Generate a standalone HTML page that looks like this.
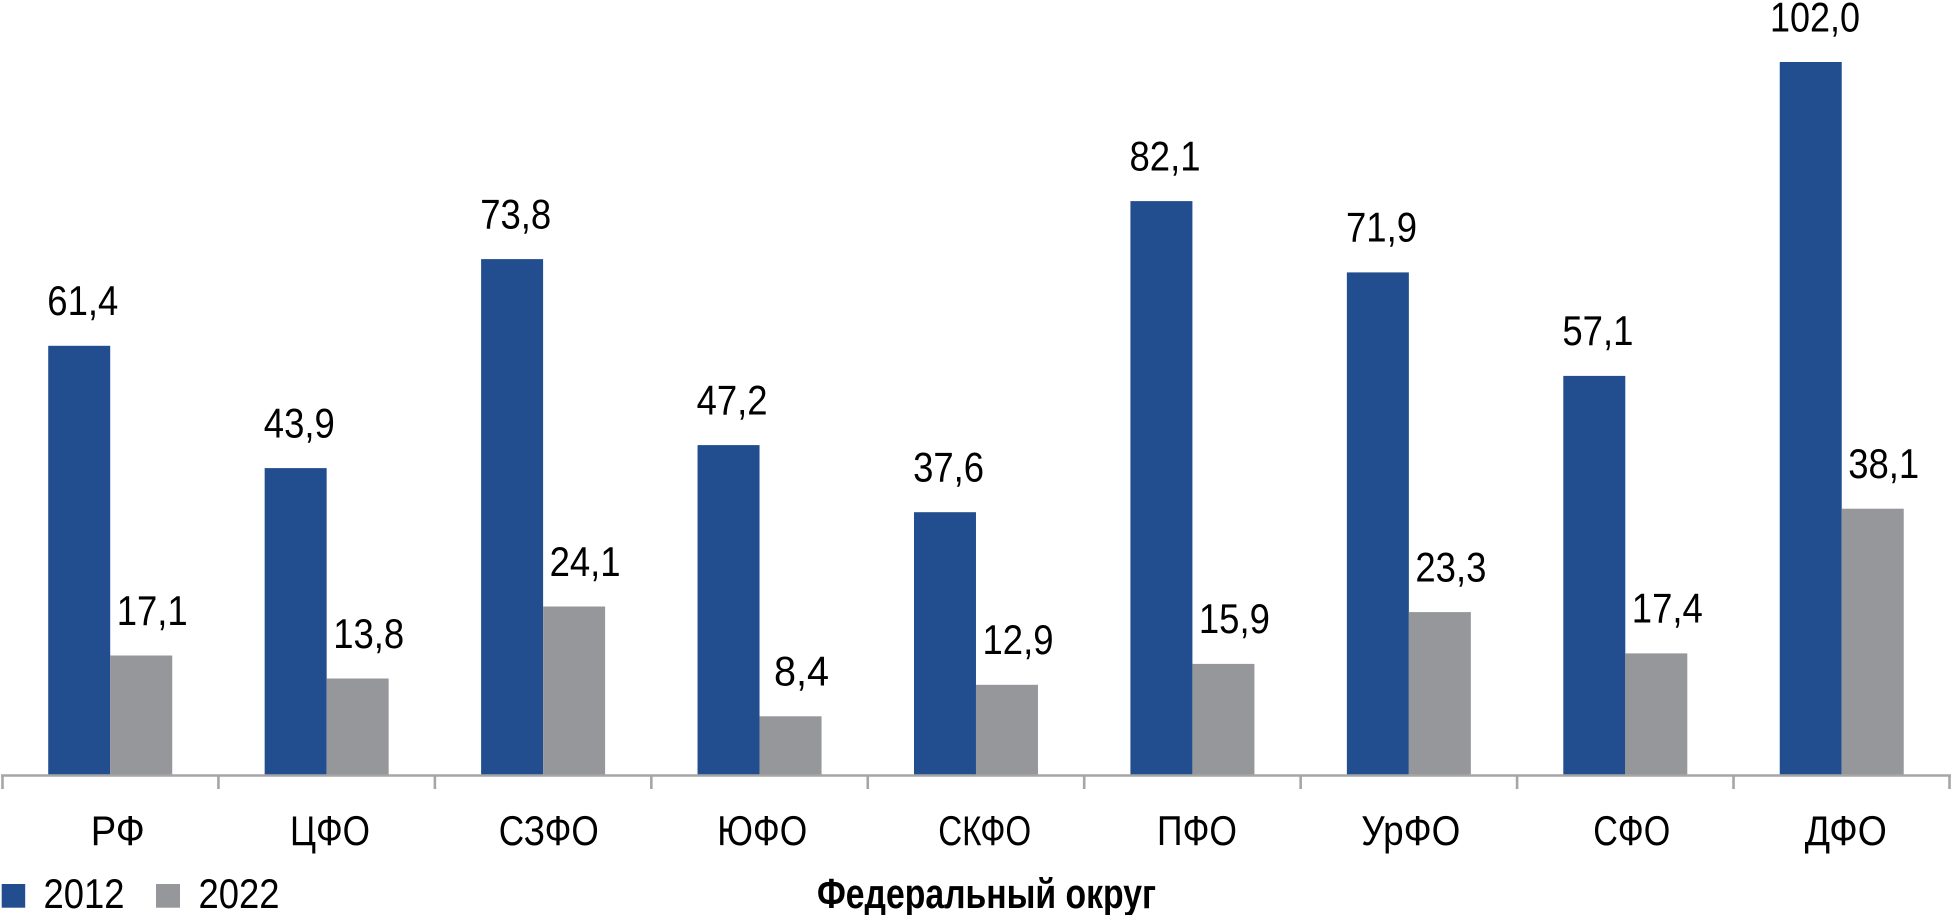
<!DOCTYPE html>
<html><head><meta charset="utf-8"><style>
html,body{margin:0;padding:0;background:#fff;}
svg{display:block;}
text{font-family:"Liberation Sans","DejaVu Sans",sans-serif;fill:#000;}
</style></head><body>
<svg width="1952" height="915" viewBox="0 0 1952 915" xmlns="http://www.w3.org/2000/svg">
<rect x="0" y="0" width="1952" height="915" fill="#fff"/>
<g fill="#224e8f">
<rect x="48.22" y="345.8" width="62" height="429.2"/>
<rect x="264.66" y="468.1" width="62" height="306.9"/>
<rect x="481.10" y="259.1" width="62" height="515.9"/>
<rect x="697.54" y="445.1" width="62" height="329.9"/>
<rect x="913.98" y="512.2" width="62" height="262.8"/>
<rect x="1130.42" y="201.1" width="62" height="573.9"/>
<rect x="1346.86" y="272.4" width="62" height="502.6"/>
<rect x="1563.30" y="375.9" width="62" height="399.1"/>
<rect x="1779.74" y="62.0" width="62" height="713.0"/>
</g>
<g fill="#96979b">
<rect x="110.22" y="655.5" width="62" height="119.5"/>
<rect x="326.66" y="678.5" width="62" height="96.5"/>
<rect x="543.10" y="606.5" width="62" height="168.5"/>
<rect x="759.54" y="716.3" width="62" height="58.7"/>
<rect x="975.98" y="684.8" width="62" height="90.2"/>
<rect x="1192.42" y="663.9" width="62" height="111.1"/>
<rect x="1408.86" y="612.1" width="62" height="162.9"/>
<rect x="1625.30" y="653.4" width="62" height="121.6"/>
<rect x="1841.74" y="508.7" width="62" height="266.3"/>
</g>
<g stroke="#a6a6a6" stroke-width="2.6" fill="none">
<line x1="1" y1="775.5" x2="1951" y2="775.5"/>
<line x1="2.5" y1="775" x2="2.5" y2="789"/>
<line x1="218.44" y1="775" x2="218.44" y2="789"/>
<line x1="434.88" y1="775" x2="434.88" y2="789"/>
<line x1="651.32" y1="775" x2="651.32" y2="789"/>
<line x1="867.76" y1="775" x2="867.76" y2="789"/>
<line x1="1084.2" y1="775" x2="1084.2" y2="789"/>
<line x1="1300.64" y1="775" x2="1300.64" y2="789"/>
<line x1="1517.08" y1="775" x2="1517.08" y2="789"/>
<line x1="1733.52" y1="775" x2="1733.52" y2="789"/>
<line x1="1949.5" y1="775" x2="1949.5" y2="789"/>
</g>
<g font-size="42" text-anchor="middle">
<text x="82.8" y="315.1" textLength="71" lengthAdjust="spacingAndGlyphs">61,4</text>
<text x="299.3" y="437.4" textLength="71" lengthAdjust="spacingAndGlyphs">43,9</text>
<text x="515.7" y="228.4" textLength="71" lengthAdjust="spacingAndGlyphs">73,8</text>
<text x="732.1" y="414.4" textLength="71" lengthAdjust="spacingAndGlyphs">47,2</text>
<text x="948.6" y="481.5" textLength="71" lengthAdjust="spacingAndGlyphs">37,6</text>
<text x="1165.0" y="170.4" textLength="71" lengthAdjust="spacingAndGlyphs">82,1</text>
<text x="1381.5" y="241.7" textLength="71" lengthAdjust="spacingAndGlyphs">71,9</text>
<text x="1597.9" y="345.2" textLength="71" lengthAdjust="spacingAndGlyphs">57,1</text>
<text x="1815.0" y="31.3" textLength="90" lengthAdjust="spacingAndGlyphs">102,0</text>
<text x="152.2" y="624.8" textLength="71" lengthAdjust="spacingAndGlyphs">17,1</text>
<text x="368.7" y="647.8" textLength="71" lengthAdjust="spacingAndGlyphs">13,8</text>
<text x="585.1" y="575.8" textLength="71" lengthAdjust="spacingAndGlyphs">24,1</text>
<text x="801.5" y="685.6" textLength="55" lengthAdjust="spacingAndGlyphs">8,4</text>
<text x="1018.0" y="654.1" textLength="71" lengthAdjust="spacingAndGlyphs">12,9</text>
<text x="1234.4" y="633.2" textLength="71" lengthAdjust="spacingAndGlyphs">15,9</text>
<text x="1450.9" y="581.4" textLength="71" lengthAdjust="spacingAndGlyphs">23,3</text>
<text x="1667.3" y="622.7" textLength="71" lengthAdjust="spacingAndGlyphs">17,4</text>
<text x="1883.7" y="478.0" textLength="71" lengthAdjust="spacingAndGlyphs">38,1</text>
</g>
<g font-size="42" text-anchor="middle">
<text x="117.7" y="845" textLength="54" lengthAdjust="spacingAndGlyphs">РФ</text>
<text x="330" y="845" textLength="80" lengthAdjust="spacingAndGlyphs">ЦФО</text>
<text x="548.7" y="845" textLength="100" lengthAdjust="spacingAndGlyphs">СЗФО</text>
<text x="762.2" y="845" textLength="90" lengthAdjust="spacingAndGlyphs">ЮФО</text>
<text x="984.7" y="845" textLength="93" lengthAdjust="spacingAndGlyphs">СКФО</text>
<text x="1197" y="845" textLength="80" lengthAdjust="spacingAndGlyphs">ПФО</text>
<text x="1410.8" y="845" textLength="99" lengthAdjust="spacingAndGlyphs">УрФО</text>
<text x="1631.7" y="845" textLength="77" lengthAdjust="spacingAndGlyphs">СФО</text>
<text x="1845.8" y="845" textLength="82" lengthAdjust="spacingAndGlyphs">ДФО</text>
</g>
<rect x="1.7" y="884" width="23.5" height="23.7" fill="#224e8f"/>
<text x="43.5" y="908" font-size="42" textLength="81" lengthAdjust="spacingAndGlyphs">2012</text>
<rect x="156" y="884" width="24" height="23.7" fill="#96979b"/>
<text x="198.5" y="908" font-size="42" textLength="81" lengthAdjust="spacingAndGlyphs">2022</text>
<text x="817" y="908" font-size="42" font-weight="bold" textLength="339" lengthAdjust="spacingAndGlyphs">Федеральный округ</text>
</svg>
</body></html>
